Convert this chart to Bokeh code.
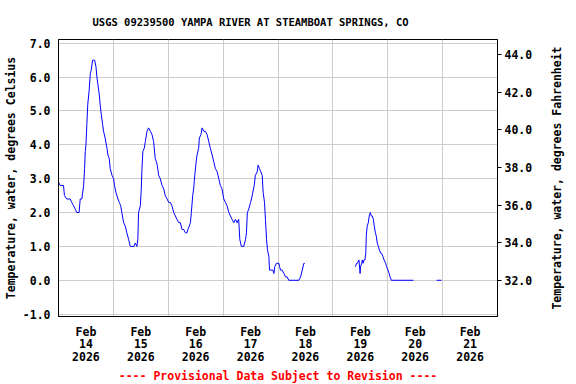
import math
from bokeh.plotting import figure
from bokeh.models import Range1d, LinearAxis, FixedTicker, NumeralTickFormatter, Title
from bokeh.embed import file_html
from bokeh.resources import INLINE

title_text = "USGS 09239500 YAMPA RIVER AT STEAMBOAT SPRINGS, CO"
footer_text = "---- Provisional Data Subject to Revision ----"
left_label = "Temperature, water, degrees Celsius"
right_label = "Temperature, water, degrees Fahrenheit"

# x = hours since Feb 14 2026 00:00
day_labels = ["Feb\n14\n2026", "Feb\n15\n2026", "Feb\n16\n2026", "Feb\n17\n2026",
              "Feb\n18\n2026", "Feb\n19\n2026", "Feb\n20\n2026", "Feb\n21\n2026"]
day_noon_hours = [12, 36, 60, 84, 108, 132, 156, 180]
midnight_hours = [0, 24, 48, 72, 96, 120, 144, 168, 192]
c_ticks = [-1, 0, 1, 2, 3, 4, 5, 6, 7]
f_ticks = [32, 34, 36, 38, 40, 42, 44]

seg1_hours = [0.0, 0.7, 2.2, 2.6, 3.6, 5.1, 5.8, 6.6, 7.3, 8.0, 9.0, 9.5, 10.2, 11.0, 11.4,
              11.7, 12.0, 12.4, 12.8, 13.4, 13.9, 14.3, 14.9, 15.3, 15.8, 16.4, 16.8, 17.2,
              17.8, 18.2, 18.7, 19.3, 19.7, 20.4, 21.2, 21.6, 22.2, 22.6, 23.4, 24.1, 24.5,
              25.1, 26.0, 26.6, 27.2, 27.7, 28.5, 29.2, 29.9, 30.7, 31.4, 32.1, 33.0, 33.6,
              34.3, 34.7, 35.0, 35.8, 36.2, 36.5, 36.9, 37.5, 38.0, 38.7, 39.4, 40.2, 40.9,
              41.6, 42.3, 42.8, 43.2, 43.8, 44.5, 45.3, 46.0, 46.7, 47.5, 48.2, 48.9, 49.6,
              50.4, 51.1, 51.8, 52.6, 53.3, 54.0, 54.8, 55.5, 56.2, 56.6, 57.2, 57.7, 58.1,
              58.7, 59.1, 59.6, 60.2, 60.6, 61.3, 61.6, 62.3, 62.8, 63.5, 64.2, 65.0, 65.7,
              66.4, 67.2, 67.9, 68.6, 69.4, 70.1, 70.8, 71.5, 72.3, 73.0, 73.7, 74.5, 75.2,
              75.9, 76.7, 77.4, 78.1, 78.8, 79.3, 80.0, 81.0, 81.8, 82.2, 82.6, 83.2, 84.0,
              84.4, 85.0, 85.6, 86.1, 86.9, 87.3, 87.9, 88.5, 89.1, 89.5, 90.1, 90.5, 91.0,
              91.4, 92.0, 92.3, 93.4, 93.8, 94.2, 94.6, 95.3, 96.4, 96.7, 97.1, 97.8, 98.6,
              99.3, 100.0, 100.7, 105.1, 105.9, 106.6, 107.3, 107.7]
seg1_temp = [2.9, 2.8, 2.8, 2.5, 2.4, 2.4, 2.3, 2.2, 2.1, 2.0, 2.0, 2.4, 2.4, 2.8, 3.3,
             3.8, 4.0, 4.6, 5.2, 5.6, 6.1, 6.2, 6.5, 6.5, 6.5, 6.3, 6.0, 5.8,
             5.5, 5.2, 4.9, 4.6, 4.4, 4.2, 3.9, 3.7, 3.6, 3.3, 3.1, 3.0, 2.8,
             2.6, 2.4, 2.3, 2.2, 2.0, 1.7, 1.6, 1.4, 1.2, 1.0, 1.0, 1.0, 1.1,
             1.0, 1.2, 2.0, 2.2, 2.7, 3.3, 3.8, 3.9, 4.1, 4.4, 4.5, 4.4, 4.3,
             4.1, 3.6, 3.5, 3.4, 3.1, 3.0, 2.8, 2.7, 2.5, 2.4, 2.3, 2.3, 2.2,
             2.0, 1.9, 1.8, 1.7, 1.7, 1.5, 1.5, 1.4, 1.4, 1.5, 1.6, 1.7, 2.0,
             2.5, 2.7, 3.1, 3.5, 3.7, 3.9, 4.2, 4.3, 4.5, 4.4, 4.4, 4.3, 4.1,
             3.9, 3.7, 3.5, 3.3, 3.2, 3.0, 2.8, 2.7, 2.4, 2.3, 2.2, 2.0, 1.9,
             1.8, 1.7, 1.8, 1.7, 1.8, 1.2, 1.0, 1.0, 1.2, 1.4, 2.0, 2.1, 2.3,
             2.4, 2.6, 2.8, 3.1, 3.2, 3.4, 3.3, 3.2, 3.1, 2.6, 2.3, 1.8, 1.2,
             0.9, 0.7, 0.3, 0.3, 0.3, 0.2, 0.4, 0.5, 0.5, 0.4, 0.3, 0.3, 0.2,
             0.1, 0.1, 0.0, 0.0, 0.1, 0.3, 0.5, 0.5]

seg2_hours = [129.9, 130.3, 130.7, 131.4, 131.9, 132.1, 132.6, 132.9, 133.2, 133.6, 134.0,
              134.4, 134.6, 135.0, 135.5, 135.9, 136.4, 136.8, 137.2, 137.7, 138.1, 138.6,
              139.0, 139.4, 139.9, 140.3, 140.9, 141.3, 141.9, 142.4, 143.1, 143.5, 144.1,
              144.6, 145.0, 145.6, 155.2]
seg2_temp = [0.4, 0.5, 0.5, 0.6, 0.2, 0.4, 0.5, 0.6, 0.5, 0.6, 0.6,
             0.8, 1.3, 1.6, 1.7, 1.9, 2.0, 1.9, 1.9, 1.8, 1.6, 1.4,
             1.3, 1.1, 1.0, 0.9, 0.8, 0.8, 0.7, 0.6, 0.5, 0.4, 0.3,
             0.2, 0.1, 0.0, 0.0]

seg3_hours = [165.4, 167.5]
seg3_temp = [0.0, 0.0]

FONT = "DejaVu Sans Mono"
FS = "11.5px"

c_lo, c_hi = -1.07, 7.11
f_lo, f_hi = c_lo * 1.8 + 32, c_hi * 1.8 + 32
x_lo, x_hi = 0, 192
p = figure(width=576, height=384, output_backend="svg", toolbar_location=None,
           x_range=Range1d(x_lo, x_hi), y_range=Range1d(c_lo, c_hi),
           min_border_left=58, min_border_right=79, min_border_top=39, min_border_bottom=68)
p.background_fill_color = "white"
p.border_fill_color = "white"
p.outline_line_color = "black"
p.outline_line_width = 1

p.title.text = title_text
p.title.align = "left"
p.title.offset = 34
p.title.standoff = 23
p.title.text_font = FONT
p.title.text_font_size = "10.5px"
p.title.text_font_style = "bold"
p.title.text_color = "black"

for hx, ty in [(seg1_hours, seg1_temp), (seg2_hours, seg2_temp), (seg3_hours, seg3_temp)]:
    p.line(hx, ty, line_color="#0000ff", line_width=1)

# left axis
ya = p.yaxis[0]
ya.ticker = FixedTicker(ticks=c_ticks)
ya.formatter = NumeralTickFormatter(format="0.0")
ya.axis_label = left_label

# bottom axis
xa = p.xaxis[0]
xa.ticker = FixedTicker(ticks=day_noon_hours)
xa.major_label_overrides = {h: lab for h, lab in zip(day_noon_hours, day_labels)}
xa.major_label_text_line_height = 0.9

# right axis (Fahrenheit) with ticks
p.extra_y_ranges = {"f": Range1d(f_lo, f_hi)}
ra = LinearAxis(y_range_name="f", ticker=FixedTicker(ticks=f_ticks),
                formatter=NumeralTickFormatter(format="0.0"))
p.add_layout(ra, "right")

for ax in [ya, xa, ra]:
    ax.major_label_text_font = FONT
    ax.major_label_text_font_size = FS
    ax.major_label_text_font_style = "bold"
    ax.major_label_text_color = "black"
    ax.axis_label_text_font = FONT
    ax.axis_label_text_font_size = FS
    ax.axis_label_text_font_style = "bold"
    ax.axis_label_text_color = "black"
    ax.axis_line_color = "black"
    ax.minor_tick_line_color = None
    ax.major_tick_in = 0

ya.major_tick_out = 0
ya.major_label_standoff = 8
ya.axis_label_standoff = 2
xa.major_tick_out = 0
xa.major_label_standoff = 8
ra.major_tick_out = 4
ra.major_tick_line_color = "black"
ra.major_label_standoff = 3

# second right axis carrying only the Fahrenheit title, reading bottom-to-top
rl = LinearAxis(y_range_name="f", ticker=FixedTicker(ticks=[]),
                axis_label="\u00a0" + right_label)
rl.axis_line_color = None
rl.major_tick_line_color = None
rl.minor_tick_line_color = None
rl.major_tick_out = 0
rl.major_tick_in = 0
rl.major_label_standoff = 0
rl.axis_label_standoff = 21
rl.axis_label_text_font = FONT
rl.axis_label_text_font_size = FS
rl.axis_label_text_font_style = "bold"
rl.axis_label_text_color = "black"
aligned = False
if "axis_label_align" in rl.properties():
    for v in ("start", "left"):
        try:
            rl.axis_label_align = v
            aligned = True
            break
        except Exception:
            pass
if aligned:
    rl.axis_label_orientation = math.pi / 2
p.add_layout(rl, "right")

p.xgrid.ticker = FixedTicker(ticks=midnight_hours)
p.ygrid.ticker = FixedTicker(ticks=c_ticks)
p.xgrid.grid_line_color = "#cccccc"
p.ygrid.grid_line_color = "#cccccc"

foot = Title(text=footer_text, align="center", text_font=FONT, text_font_size=FS,
             text_font_style="bold", text_color="#ff0000", standoff=0)
p.add_layout(foot, "below")

open("out.html", "w").write(file_html(p, INLINE))
